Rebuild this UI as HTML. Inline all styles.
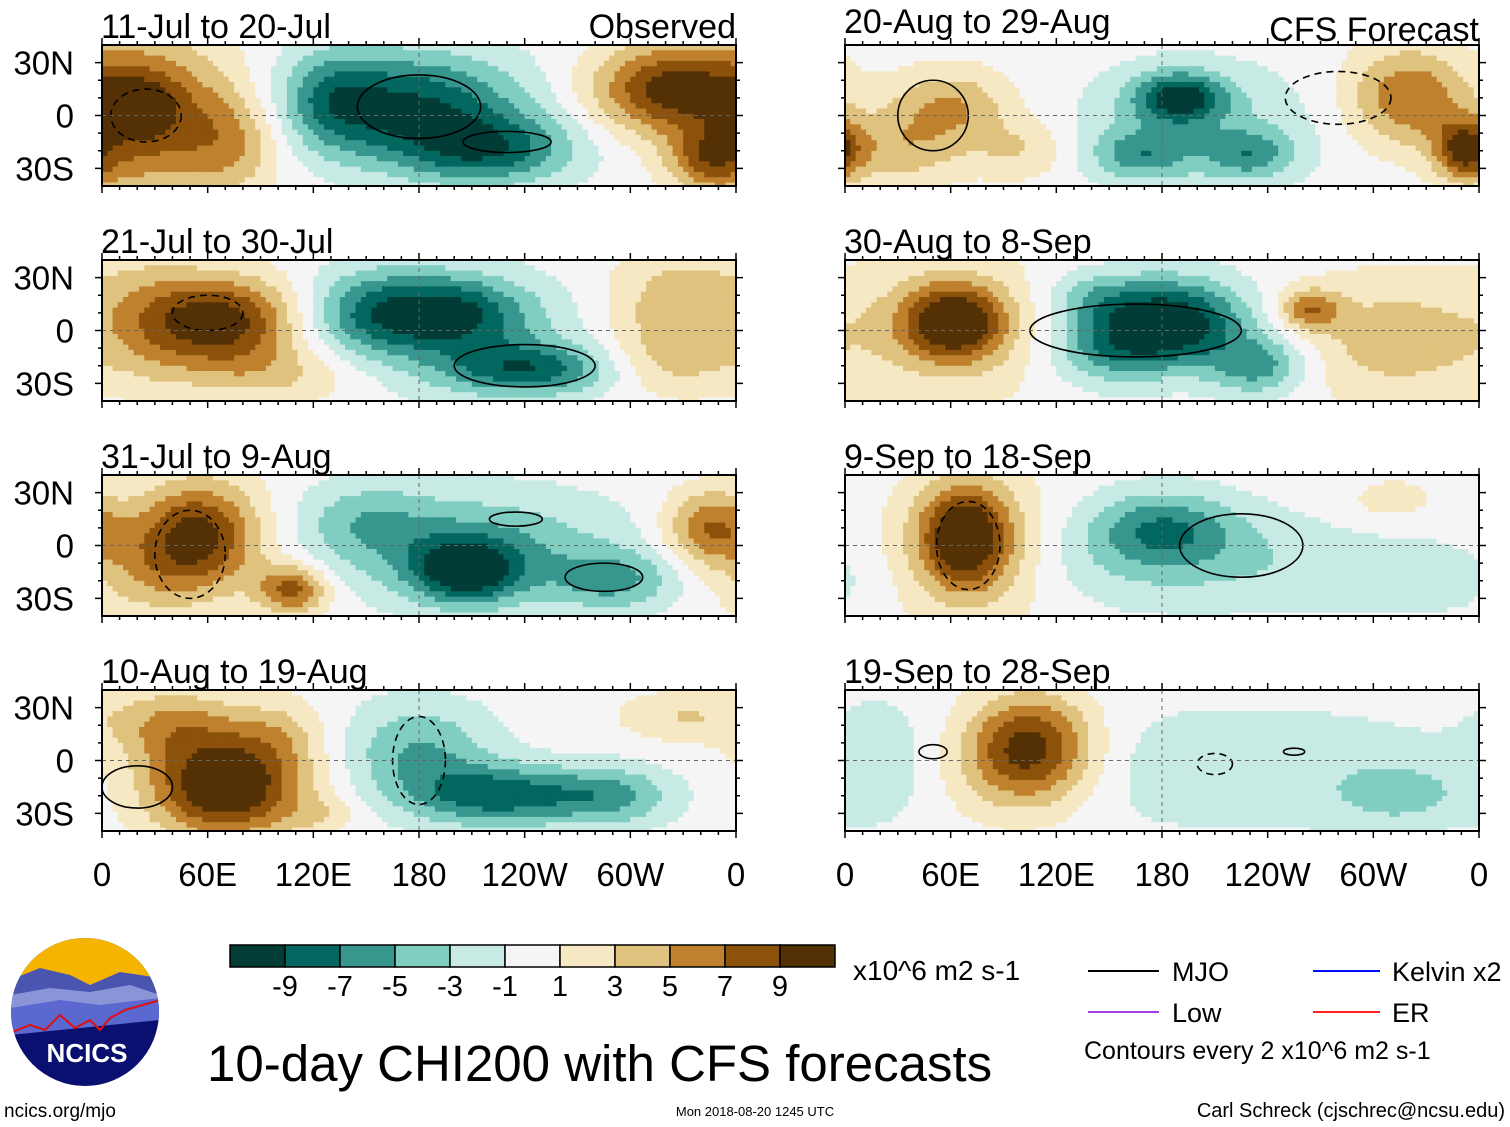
<!DOCTYPE html>
<html><head><meta charset="utf-8"><style>
html,body{margin:0;padding:0;background:#fff;}
svg{display:block;font-family:"Liberation Sans",sans-serif;}
</style></head><body>
<svg id="chart" width="1510" height="1127" viewBox="0 0 1510 1127" xmlns="http://www.w3.org/2000/svg">
<g id="panels"></g>
<g id="axes"></g>
<g id="colorbar"></g>
<g><text x="853" y="980" font-size="28">x10^6 m2 s-1</text></g>
<g>
 <g><line x1="1088" y1="971" x2="1159" y2="971" stroke="#000" stroke-width="2"/><text x="1172" y="981" font-size="27">MJO</text></g>
 <g><line x1="1313" y1="971" x2="1380" y2="971" stroke="#0010ff" stroke-width="2"/><text x="1392" y="981" font-size="27">Kelvin x2</text></g>
 <g><line x1="1088" y1="1012" x2="1159" y2="1012" stroke="#a040e0" stroke-width="2"/><text x="1172" y="1022" font-size="27">Low</text></g>
 <g><line x1="1313" y1="1012" x2="1380" y2="1012" stroke="#ff2020" stroke-width="2"/><text x="1392" y="1022" font-size="27">ER</text></g>
 <text x="1084" y="1059" font-size="25">Contours every 2 x10^6 m2 s-1</text>
</g>
<text x="207" y="1081" font-size="51">10-day CHI200 with CFS forecasts</text>
<g>
 <clipPath id="lc"><circle cx="85" cy="1012" r="74"/></clipPath>
 <g clip-path="url(#lc)">
  <rect x="10" y="936" width="150" height="152" fill="#0a1070"/>
  <rect x="10" y="936" width="150" height="50" fill="#f5b400"/>
  <path d="M10 980 L40 968 L70 975 L90 985 L120 972 L160 978 L160 1000 L10 1010Z" fill="#4a55b0"/>
  <path d="M10 995 L50 988 L90 992 L130 985 L160 995 L160 1010 L10 1025Z" fill="#8a95d8"/>
  <path d="M10 1008 L60 1000 L100 1005 L160 998 L160 1020 L10 1035Z" fill="#5a68d0"/>
  <path d="M10 1033 L30 1025 L45 1030 L60 1015 L75 1028 L90 1020 L100 1030 L110 1018 L125 1010 L160 1000" fill="none" stroke="#e01010" stroke-width="2"/>
 </g>
 <text x="87" y="1062" font-size="26" font-weight="bold" fill="#fff" text-anchor="middle">NCICS</text>
</g>
<text x="4" y="1117" font-size="19">ncics.org/mjo</text>
<text x="755" y="1116" font-size="13" text-anchor="middle">Mon 2018-08-20 1245 UTC</text>
<text x="1505" y="1117" font-size="20" text-anchor="end">Carl Schreck (cjschrec@ncsu.edu)</text>
</svg>
<script>
// Anomaly centers per panel: [lon, lat, value, sigmaLon, sigmaLat]
const titles = ["11-Jul to 20-Jul","21-Jul to 30-Jul","31-Jul to 9-Aug","10-Aug to 19-Aug","20-Aug to 29-Aug","30-Aug to 8-Sep","9-Sep to 18-Sep","19-Sep to 28-Sep"];
const p1 = [[25,0,8,35,32],[20,5,4,15,12],[320,15,9,30,18],[345,-25,6,16,12],[175,5,-9,45,22],[220,-20,-7,35,14],[130,10,-4,20,20],[75,-15,4,20,20]];
const p2 = [[70,5,10,28,18],[100,-25,3,35,12],[30,5,4,20,25],[195,10,-8,30,15],[150,10,-5,25,18],[245,-22,-7,35,10],[215,-5,-3,50,25],[330,10,5,30,25],[315,-20,2,30,12]];
const p3 = [[55,5,10,25,22],[108,-25,8,14,10],[20,-15,3,25,20],[207,-15,-9,22,13],[210,0,-5,60,22],[290,-20,-5,25,12],[345,10,7,18,15],[150,15,-3,25,15]];
const p4 = [[70,-15,12,30,20],[40,20,5,25,15],[100,15,3,20,15],[226,-20,-8,35,12],[180,5,-5,30,20],[290,-20,-5,25,12],[330,25,3,25,10],[125,-30,2,15,8]];
const p5 = [[190,10,-9,18,10],[168,-22,-5,20,10],[230,-22,-5,18,10],[200,-5,-3,50,25],[321,10,7,25,20],[352,-20,9,12,12],[60,5,5,25,15],[30,-20,4,25,15],[100,-20,3,20,12]];
const p6 = [[62,5,10,20,15],[60,0,3,45,30],[185,5,-11,30,17],[150,-10,-5,25,15],[235,-20,-6,20,12],[140,20,-3,20,10],[264,12,6,12,8],[310,-5,4,40,25]];
const p7 = [[68,5,10,18,20],[75,-5,4,35,30],[180,10,-6,30,15],[200,-10,-3,90,20],[330,-20,-2,30,12],[310,25,2,20,10]];
const p8 = [[105,10,9,25,20],[100,-10,3,30,20],[230,-5,-2.5,90,25],[315,-20,-3,25,12],[20,0,-2,20,25]];
const panelData = [p1,p2,p3,p4,p5,p6,p7,p8];
// MJO contours as ellipses: [lon, lat, rLon, rLat, dashed]
const c1 = [[180,5,35,18,0],[230,-15,25,6,0],[25,0,20,15,1]];
const c2 = [[240,-20,40,12,0],[60,10,20,10,1]];
const c3 = [[235,15,15,4,0],[285,-18,22,8,0],[50,-5,20,25,1]];
const c4 = [[20,-15,20,12,0],[180,0,15,25,1]];
const c5 = [[50,0,20,20,0],[280,10,30,15,1]];
const c6 = [[165,0,60,15,0]];
const c7 = [[225,0,35,18,0],[70,0,18,25,1]];
const c8 = [[255,5,6,2,0],[210,-2,10,6,1],[50,5,8,4,0]];
const contours = [c1,c2,c3,c4,c5,c6,c7,c8];
const levels = [-9,-7,-5,-3,-1,1,3,5,7,9];
const levelLabels = ["-9","-7","-5","-3","-1","1","3","5","7","9"];
const colors = ["#013c36","#02675f","#37978f","#80cdc1","#c7eae5","#f5f5f5","#f6e8c3","#dfc27d","#bf812d","#8c510a","#543005"];
const lonTicks = ["0","60E","120E","180","120W","60W","0"];
const latTicks = ["30N","0","30S"];

const NS="http://www.w3.org/2000/svg";
function mk(t,a,p){const e=document.createElementNS(NS,t);for(const k in a)e.setAttribute(k,a[k]);if(p)p.appendChild(e);return e;}
function colorFor(v){let i=0;while(i<levels.length&&v>=levels[i])i++;return colors[i];}
const cols=[102,845], tops=[45,260,475,690], PW=634, PH=141;
const panelsG=document.getElementById('panels'), axesG=document.getElementById('axes');
function field(d,lon,lat){let s=0;for(const c of d){let dl=Math.abs(lon-c[0]);if(dl>180)dl=360-dl;s+=c[2]*Math.exp(-0.5*((dl/c[3])**2+((lat-c[1])/c[4])**2));}return s;}
panelData.forEach((d,i)=>{
  const x0=cols[Math.floor(i/4)], y0=tops[i%4];
  const xs=lon=>x0+lon/360*PW, ys=lat=>y0+PH/2-lat/80*PH;
  const g=mk('g',{},panelsG);
  
  
  const cid='clip'+i;
  const cp=mk('clipPath',{id:cid},g);mk('rect',{x:x0,y:y0,width:PW,height:PH},cp);
  const cg=mk('g',{'clip-path':'url(#'+cid+')'},g);
  const step=3;
  for(let lon=0;lon<360;lon+=step){for(let lat=40;lat>-40;lat-=step){
    const v=field(d,lon+step/2,lat-step/2);
    const r=mk('rect',{x:xs(lon).toFixed(1),y:ys(lat).toFixed(1),width:(step/360*PW+0.6).toFixed(1),height:(step/80*PH+0.6).toFixed(1),fill:colorFor(v)},cg);
    
    
  }}
  contours[i].forEach(c=>{
    const e=mk('ellipse',{cx:xs(c[0]),cy:ys(c[1]),rx:c[2]/360*PW,ry:c[3]/80*PH,fill:'none',stroke:'#000','stroke-width':1.6,'stroke-dasharray':c[4]?'7 5':'none'},cg);
    
    
  });
  mk('line',{x1:x0,y1:ys(0),x2:x0+PW,y2:ys(0),stroke:'#666','stroke-dasharray':'4 4','stroke-width':1},cg);
  mk('line',{x1:xs(180),y1:y0,x2:xs(180),y2:y0+PH,stroke:'#666','stroke-dasharray':'4 4','stroke-width':1},cg);
  mk('rect',{x:x0,y:y0,width:PW,height:PH,fill:'none',stroke:'#000','stroke-width':2},g);
  for(let lon=0;lon<=360;lon+=10){const L=lon%60==0?7:4;
    mk('line',{x1:xs(lon),y1:y0,x2:xs(lon),y2:y0-L,stroke:'#000','stroke-width':1.5},g);
    mk('line',{x1:xs(lon),y1:y0+PH,x2:xs(lon),y2:y0+PH+L,stroke:'#000','stroke-width':1.5},g);}
  for(let lat=-30;lat<=30;lat+=10){const L=lat%30==0?7:4;
    mk('line',{x1:x0,y1:ys(lat),x2:x0-L,y2:ys(lat),stroke:'#000','stroke-width':1.5},g);
    mk('line',{x1:x0+PW,y1:ys(lat),x2:x0+PW+L,y2:ys(lat),stroke:'#000','stroke-width':1.5},g);}
  const t=mk('text',{x:x0-1,y:y0-(i==4?12:7),'font-size':34},axesG);t.textContent=titles[i];
  
  
  if(i<4){latTicks.forEach((s,k)=>{const lt=mk('text',{x:74,y:ys(30-30*k)+12,'font-size':33,'text-anchor':'end'},axesG);lt.textContent=s;
    
    });}
  if(i==0){const o=mk('text',{x:x0+PW,y:y0-7,'font-size':34,'text-anchor':'end'},axesG);o.textContent='Observed';
    
    }
  if(i==4){const o=mk('text',{x:x0+PW,y:y0-4,'font-size':34,'text-anchor':'end'},axesG);o.textContent='CFS Forecast';
    
    }
  if(i%4==3){lonTicks.forEach((s,k)=>{const lt=mk('text',{x:xs(k*60),y:886,'font-size':33,'text-anchor':'middle'},axesG);lt.textContent=s;
    
    });}
});
const cb=document.getElementById('colorbar');
colors.forEach((c,k)=>{const r=mk('rect',{x:230+k*55,y:945,width:55,height:22,fill:c,stroke:'#000','stroke-width':1.5},cb);
  
  });
levelLabels.forEach((s,k)=>{const t=mk('text',{x:285+k*55,y:996,'font-size':29,'text-anchor':'middle'},cb);t.textContent=s;
  
  });
</script>
</body></html>
